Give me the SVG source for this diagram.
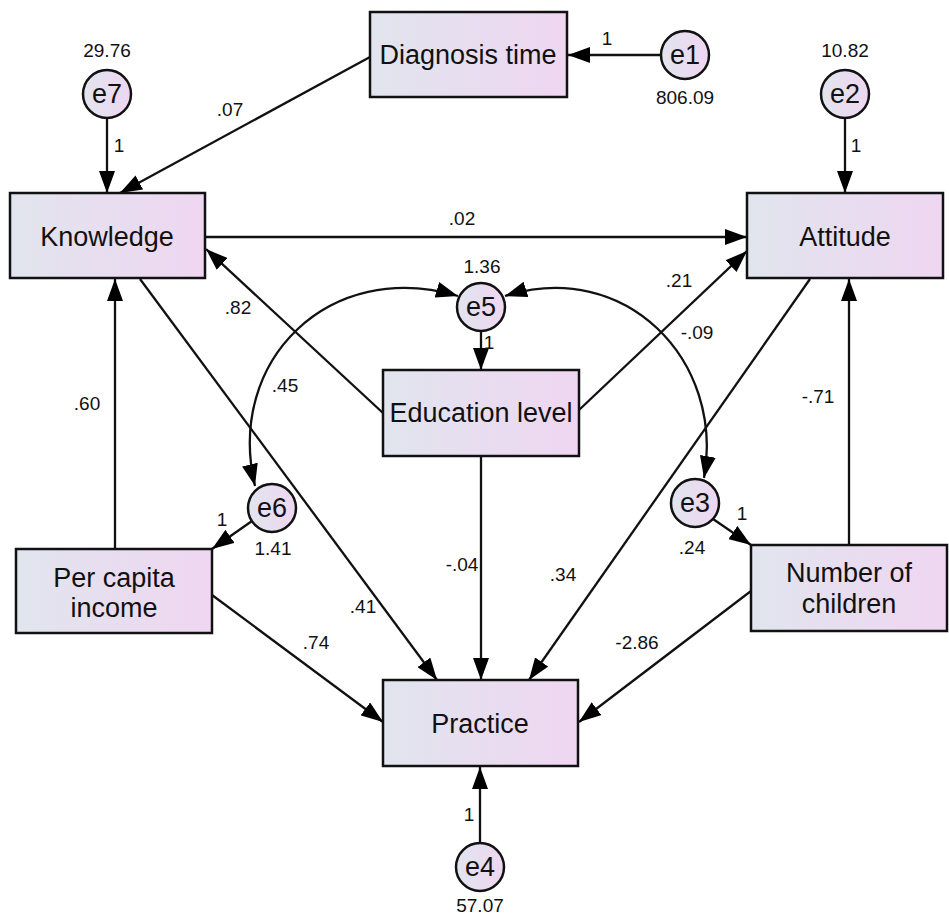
<svg xmlns="http://www.w3.org/2000/svg" width="949" height="919" viewBox="0 0 949 919">
<defs>
<linearGradient id="g" x1="0" y1="0" x2="1" y2="0">
<stop offset="0" stop-color="#e1e5ee"/>
<stop offset="1" stop-color="#efd6f1"/>
</linearGradient>
<marker id="ah" markerUnits="userSpaceOnUse" markerWidth="22" markerHeight="16" refX="22" refY="8" orient="auto-start-reverse">
<path d="M0,0 L22,8 L0,16 z" fill="#000"/>
</marker>
</defs>
<style>
.box{fill:url(#g);stroke:#111;stroke-width:2.5}
.circ{fill:url(#g);stroke:#111;stroke-width:2.5}
.lbl{font-family:"Liberation Sans",Arial,sans-serif;font-size:27px;fill:#111;text-anchor:middle}
.num{font-family:"Liberation Sans",Arial,sans-serif;font-size:19px;fill:#111;text-anchor:middle}
.c{fill:none;stroke:#111;stroke-width:2.3;marker-end:url(#ah)}
.cc{fill:none;stroke:#111;stroke-width:2.3;marker-end:url(#ah);marker-start:url(#ah)}
</style>
<rect width="949" height="919" fill="#fff"/>
<g id="connectors">
<line class="c" x1="660" y1="55" x2="568" y2="55"/>
<line class="c" x1="370" y1="57" x2="120" y2="193"/>
<line class="c" x1="107" y1="118" x2="107" y2="193"/>
<line class="c" x1="845" y1="118" x2="845" y2="193"/>
<line class="c" x1="206" y1="237" x2="747" y2="237"/>
<line class="c" x1="383" y1="413" x2="206" y2="249"/>
<line class="c" x1="579" y1="410" x2="747" y2="251"/>
<line class="c" x1="481" y1="332" x2="481" y2="370"/>
<line class="c" x1="481" y1="456" x2="481" y2="680"/>
<line class="c" x1="140" y1="279" x2="437" y2="680"/>
<line class="c" x1="810" y1="279" x2="529" y2="680"/>
<line class="c" x1="115" y1="549" x2="115" y2="279"/>
<line class="c" x1="212" y1="595" x2="383" y2="722"/>
<line class="c" x1="751" y1="591" x2="579" y2="722"/>
<line class="c" x1="849" y1="545" x2="849" y2="279"/>
<line class="c" x1="252" y1="521" x2="212" y2="549"/>
<line class="c" x1="713" y1="519" x2="751" y2="545"/>
<line class="c" x1="480" y1="843" x2="480" y2="767"/>
<path class="cc" d="M458,296 C330,258 225,360 255,486"/>
<path class="cc" d="M505,296 C625,258 725,360 704,478"/>
</g>
<g id="connector-labels">
<text class="num" x="607" y="45">1</text>
<text class="num" x="230" y="116">.07</text>
<text class="num" x="119" y="152">1</text>
<text class="num" x="856" y="152">1</text>
<text class="num" x="462" y="225">.02</text>
<text class="num" x="238" y="314">.82</text>
<text class="num" x="679" y="287">.21</text>
<text class="num" x="489" y="349">1</text>
<text class="num" x="697" y="339">-.09</text>
<text class="num" x="285" y="392">.45</text>
<text class="num" x="87" y="410">.60</text>
<text class="num" x="818" y="403">-.71</text>
<text class="num" x="462" y="571">-.04</text>
<text class="num" x="563" y="581">.34</text>
<text class="num" x="363" y="613">.41</text>
<text class="num" x="316" y="649">.74</text>
<text class="num" x="637" y="649">-2.86</text>
<text class="num" x="222" y="526">1</text>
<text class="num" x="742" y="520">1</text>
<text class="num" x="469" y="821">1</text>
</g>
<g id="diagnosis-time">
<rect class="box" x="370" y="12" width="197" height="85"/>
<text class="lbl" x="468" y="64">Diagnosis time</text>
</g>
<g id="e1">
<circle class="circ" cx="685" cy="55" r="24"/>
<text class="lbl" x="685" y="64">e1</text>
<text class="num" x="685" y="104">806.09</text>
</g>
<g id="e7">
<circle class="circ" cx="107" cy="94" r="24"/>
<text class="lbl" x="107" y="103">e7</text>
<text class="num" x="107" y="57">29.76</text>
</g>
<g id="e2">
<circle class="circ" cx="845" cy="94" r="24"/>
<text class="lbl" x="845" y="103">e2</text>
<text class="num" x="845" y="57">10.82</text>
</g>
<g id="knowledge">
<rect class="box" x="10" y="193" width="195" height="85"/>
<text class="lbl" x="107" y="246">Knowledge</text>
</g>
<g id="attitude">
<rect class="box" x="747" y="193" width="196" height="85"/>
<text class="lbl" x="845" y="246">Attitude</text>
</g>
<g id="e5">
<circle class="circ" cx="481" cy="307" r="24"/>
<text class="lbl" x="481" y="316">e5</text>
<text class="num" x="482" y="273">1.36</text>
</g>
<g id="education-level">
<rect class="box" x="383" y="370" width="196" height="86"/>
<text class="lbl" x="481" y="422">Education level</text>
</g>
<g id="e6">
<circle class="circ" cx="272" cy="508" r="24"/>
<text class="lbl" x="272" y="517">e6</text>
<text class="num" x="273" y="555">1.41</text>
</g>
<g id="e3">
<circle class="circ" cx="695" cy="503" r="24"/>
<text class="lbl" x="695" y="512">e3</text>
<text class="num" x="692" y="554">.24</text>
</g>
<g id="per-capita-income">
<rect class="box" x="16" y="549" width="196" height="84"/>
<text class="lbl" x="114" y="587">Per capita</text>
<text class="lbl" x="114" y="617">income</text>
</g>
<g id="number-of-children">
<rect class="box" x="751" y="545" width="196" height="86"/>
<text class="lbl" x="849" y="582">Number of</text>
<text class="lbl" x="849" y="613">children</text>
</g>
<g id="practice">
<rect class="box" x="383" y="680" width="195" height="86"/>
<text class="lbl" x="480" y="733">Practice</text>
</g>
<g id="e4">
<circle class="circ" cx="480" cy="867" r="24"/>
<text class="lbl" x="480" y="876">e4</text>
<text class="num" x="480" y="912">57.07</text>
</g>
</svg>
